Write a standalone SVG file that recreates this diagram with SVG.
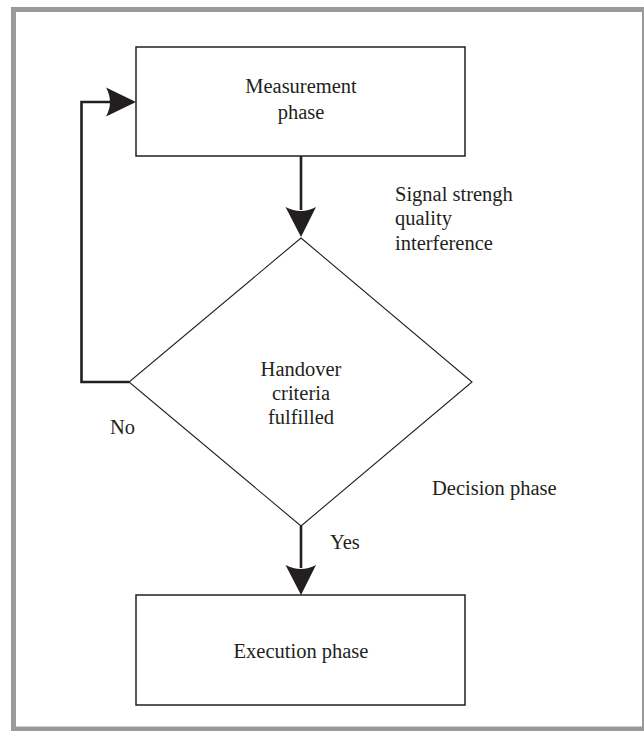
<svg xmlns="http://www.w3.org/2000/svg" width="644" height="731" viewBox="0 0 644 731">
<style>
text{font-family:"Liberation Serif","Times New Roman",serif;font-size:20.5px;fill:#231f20}
.c{text-anchor:middle}
.box{fill:#fff;stroke:#231f20;stroke-width:1.5}
.dia{fill:#fff;stroke:#231f20;stroke-width:1.1}
.line{fill:none;stroke:#231f20;stroke-width:2.6}
.head{fill:#231f20}
</style>
<rect width="644" height="731" fill="#fff"/>
<rect x="13.5" y="9.5" width="631" height="719.5" fill="none" stroke="#9a9a9a" stroke-width="5"/>
<g id="connectors">
<path class="line" d="M301,156 V210"/>
<path class="head" d="M301,237 L285.5,207 Q301,215 316,207 Z"/>
<path class="line" d="M301,526 V568"/>
<path class="head" d="M301,595 L285.5,565 Q301,573 316,565 Z"/>
<path class="line" d="M129,382 H81.5 V102 H110"/>
<path class="head" d="M136,102 L106,87.5 Q114,102 106,116.5 Z"/>
</g>
<g id="measurement">
<rect class="box" x="136" y="47" width="329" height="109"/>
<text class="c" x="301" y="93">Measurement</text>
<text class="c" x="301" y="119">phase</text>
</g>
<g id="decision">
<polygon class="dia" points="301,238 472,382 301,526 129,382"/>
<text class="c" x="301" y="376">Handover</text>
<text class="c" x="301" y="400">criteria</text>
<text class="c" x="301" y="424">fulfilled</text>
</g>
<g id="execution">
<rect class="box" x="136" y="595" width="329" height="110"/>
<text class="c" x="301" y="658">Execution phase</text>
</g>
<g id="labels">
<text x="395" y="201">Signal strengh</text>
<text x="395" y="225">quality</text>
<text x="395" y="250">interference</text>
<text x="110" y="434">No</text>
<text x="432" y="495">Decision phase</text>
<text x="330" y="549">Yes</text>
</g>
</svg>
